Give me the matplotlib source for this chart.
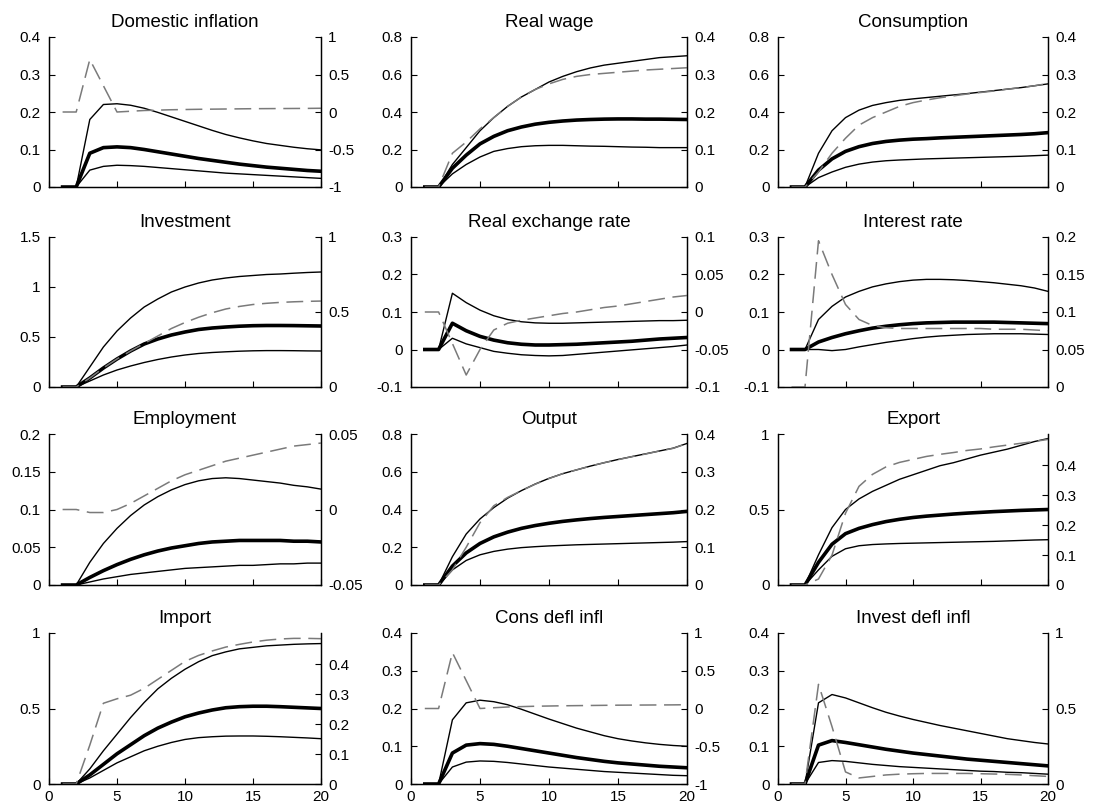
import matplotlib
matplotlib.use("Agg")
import matplotlib.pyplot as plt
import numpy as np

plt.rcParams['font.family'] = ['Liberation Sans', 'DejaVu Sans']

periods = list(range(1, 21))
xticks = [0, 5, 10, 15, 20]

titles = ["Domestic inflation", "Real wage", "Consumption",
          "Investment", "Real exchange rate", "Interest rate",
          "Employment", "Output", "Export",
          "Import", "Cons defl infl", "Invest defl infl"]

# ---- Domestic inflation ----
dinf_med = [0, 0, 0.09, 0.105, 0.107, 0.105, 0.1, 0.094, 0.088, 0.082, 0.076, 0.071, 0.066, 0.061, 0.057, 0.053, 0.05, 0.047, 0.044, 0.042]
dinf_hi = [0, 0, 0.18, 0.22, 0.222, 0.218, 0.21, 0.199, 0.187, 0.175, 0.163, 0.151, 0.14, 0.131, 0.123, 0.116, 0.111, 0.106, 0.102, 0.099]
dinf_lo = [0, 0, 0.045, 0.055, 0.058, 0.057, 0.055, 0.052, 0.049, 0.046, 0.043, 0.04, 0.037, 0.035, 0.033, 0.031, 0.029, 0.027, 0.025, 0.023]
dinf_dash = [0, 0, 0.7, 0.35, 0.0, 0.01, 0.02, 0.025, 0.03, 0.033, 0.036, 0.038, 0.04, 0.042, 0.044, 0.045, 0.046, 0.047, 0.048, 0.05]

# ---- Real wage ----
rw_med = [0, 0, 0.1, 0.17, 0.23, 0.27, 0.3, 0.32, 0.335, 0.345, 0.352, 0.357, 0.36, 0.362, 0.363, 0.363, 0.362, 0.362, 0.361, 0.36]
rw_hi = [0, 0, 0.12, 0.21, 0.3, 0.37, 0.43, 0.48, 0.52, 0.56, 0.59, 0.615, 0.635, 0.65, 0.66, 0.67, 0.68, 0.69, 0.695, 0.7]
rw_lo = [0, 0, 0.07, 0.12, 0.16, 0.19, 0.205, 0.215, 0.22, 0.222, 0.222, 0.22, 0.218, 0.217, 0.215, 0.213, 0.212, 0.21, 0.21, 0.21]
rw_dash = [0, 0, 0.09, 0.12, 0.155, 0.185, 0.215, 0.24, 0.26, 0.275, 0.287, 0.295, 0.3, 0.303, 0.306, 0.309, 0.312, 0.314, 0.316, 0.318]

# ---- Consumption ----
c_med = [0, 0, 0.09, 0.15, 0.19, 0.215, 0.232, 0.243, 0.25, 0.255, 0.258, 0.262, 0.265, 0.268, 0.271, 0.274, 0.277, 0.28, 0.284, 0.29]
c_hi = [0, 0, 0.18, 0.3, 0.37, 0.41, 0.435, 0.45, 0.462, 0.47, 0.477, 0.484, 0.491, 0.498, 0.506, 0.514, 0.522, 0.53, 0.54, 0.55]
c_lo = [0, 0, 0.05, 0.08, 0.105, 0.122, 0.133, 0.14, 0.144, 0.147, 0.15, 0.152, 0.154, 0.156, 0.158, 0.16, 0.162, 0.164, 0.167, 0.17]
c_dash = [0, 0, 0.04, 0.09, 0.13, 0.165, 0.185, 0.2, 0.215, 0.225, 0.232, 0.238, 0.243, 0.248, 0.252, 0.256, 0.261, 0.265, 0.27, 0.276]

# ---- Investment ----
i_med = [0, 0, 0.09, 0.19, 0.28, 0.36, 0.43, 0.48, 0.52, 0.55, 0.575, 0.59, 0.6, 0.608, 0.613, 0.615, 0.615, 0.614, 0.612, 0.61]
i_hi = [0, 0, 0.2, 0.4, 0.56, 0.69, 0.8, 0.88, 0.95, 1.0, 1.04, 1.07, 1.09, 1.105, 1.115, 1.125, 1.13, 1.138, 1.145, 1.15]
i_lo = [0, 0, 0.06, 0.12, 0.17, 0.21, 0.245, 0.275, 0.3, 0.32, 0.335, 0.345, 0.352, 0.358, 0.362, 0.364, 0.364, 0.363, 0.361, 0.36]
i_dash = [0, 0, 0.06, 0.127, 0.187, 0.24, 0.29, 0.34, 0.39, 0.43, 0.465, 0.495, 0.52, 0.537, 0.55, 0.558, 0.564, 0.568, 0.571, 0.573]

# ---- Real exchange rate ----
rer_med = [0, 0, 0.07, 0.05, 0.035, 0.025, 0.018, 0.014, 0.012, 0.012, 0.013, 0.014, 0.016, 0.018, 0.02, 0.022, 0.025, 0.028, 0.03, 0.032]
rer_hi = [0, 0, 0.15, 0.125, 0.105, 0.09, 0.08, 0.074, 0.071, 0.07, 0.07, 0.071, 0.072, 0.073, 0.074, 0.075, 0.076, 0.077, 0.077, 0.078]
rer_lo = [0, 0, 0.03, 0.015, 0.005, -0.005, -0.01, -0.014, -0.016, -0.017, -0.016, -0.013, -0.01, -0.007, -0.004, -0.001, 0.002, 0.005, 0.008, 0.012]
rer_dash = [0, 0, -0.042, -0.084, -0.05, -0.024, -0.015, -0.011, -0.008, -0.005, -0.002, 0.0, 0.003, 0.006, 0.008, 0.011, 0.014, 0.017, 0.02, 0.022]

# ---- Interest rate ----
ir_med = [0, 0, 0.02, 0.032, 0.042, 0.05, 0.057, 0.062, 0.066, 0.069, 0.071, 0.072, 0.073, 0.073, 0.073, 0.073, 0.072, 0.071, 0.07, 0.069]
ir_hi = [0, 0, 0.08, 0.115, 0.14, 0.155, 0.167, 0.175, 0.181, 0.185, 0.187, 0.187, 0.186, 0.184, 0.181, 0.178, 0.174, 0.17, 0.164, 0.155]
ir_lo = [0, 0, 0.0, -0.003, 0.0, 0.007, 0.013, 0.019, 0.024, 0.029, 0.033, 0.036, 0.038, 0.04, 0.041, 0.042, 0.042, 0.042, 0.041, 0.04]
ir_dash = [0, 0, 0.195, 0.15, 0.11, 0.09, 0.082, 0.079, 0.078, 0.078, 0.078, 0.078, 0.078, 0.078, 0.078, 0.077, 0.077, 0.077, 0.076, 0.075]

# ---- Employment ----
e_med = [0, 0, 0.01, 0.019, 0.027, 0.034, 0.04, 0.045, 0.049, 0.052, 0.055, 0.057, 0.058, 0.059, 0.059, 0.059, 0.059, 0.058, 0.058, 0.057]
e_hi = [0, 0, 0.03, 0.055, 0.075, 0.092, 0.106, 0.117, 0.126, 0.133, 0.138, 0.141, 0.142, 0.141, 0.139, 0.137, 0.135, 0.132, 0.13, 0.127]
e_lo = [0, 0, 0.004, 0.008, 0.011, 0.014, 0.016, 0.018, 0.02, 0.022, 0.023, 0.024, 0.025, 0.026, 0.026, 0.027, 0.028, 0.028, 0.029, 0.029]
e_dash = [0, 0, -0.002, -0.002, 0.0, 0.004, 0.009, 0.014, 0.019, 0.023, 0.026, 0.029, 0.032, 0.034, 0.036, 0.038, 0.04, 0.042, 0.043, 0.044]

# ---- Output ----
y_med = [0, 0, 0.1, 0.17, 0.22, 0.255, 0.28, 0.3, 0.315, 0.327, 0.337, 0.345, 0.352, 0.358, 0.363, 0.368, 0.373, 0.378, 0.383, 0.39]
y_hi = [0, 0, 0.15, 0.27, 0.35, 0.41, 0.46, 0.5, 0.535, 0.565, 0.59, 0.61, 0.63, 0.648, 0.665, 0.68, 0.695, 0.71, 0.725, 0.75]
y_lo = [0, 0, 0.08, 0.13, 0.16, 0.178, 0.19, 0.198, 0.203, 0.207, 0.21, 0.213, 0.215, 0.217, 0.219, 0.221, 0.223, 0.225, 0.227, 0.23]
y_dash = [0, 0, 0.04, 0.1, 0.165, 0.21, 0.232, 0.25, 0.267, 0.282, 0.295, 0.305, 0.315, 0.324, 0.332, 0.34, 0.347, 0.355, 0.362, 0.375]

# ---- Export ----
x_med = [0, 0, 0.15, 0.27, 0.34, 0.375, 0.4, 0.42, 0.435, 0.447, 0.456, 0.463, 0.47, 0.476, 0.481, 0.486, 0.49, 0.494, 0.497, 0.5]
x_hi = [0, 0, 0.2, 0.38, 0.5, 0.57, 0.62, 0.66, 0.7, 0.73, 0.76, 0.79, 0.81, 0.835, 0.86, 0.88, 0.9, 0.925, 0.95, 0.97]
x_lo = [0, 0, 0.1, 0.19, 0.24, 0.26, 0.268, 0.272, 0.275, 0.277, 0.279, 0.281, 0.283, 0.285, 0.287, 0.289, 0.292, 0.295, 0.298, 0.3]
x_dash = [0, 0, 0.02, 0.1, 0.24, 0.33, 0.37, 0.395, 0.41, 0.42, 0.43, 0.437, 0.443, 0.45, 0.455, 0.462, 0.468, 0.474, 0.48, 0.487]

# ---- Import ----
m_med = [0, 0, 0.06, 0.13, 0.2, 0.26, 0.32, 0.37, 0.41, 0.445, 0.47, 0.49, 0.505, 0.512, 0.515, 0.515, 0.512, 0.508, 0.504, 0.5]
m_hi = [0, 0, 0.1, 0.22, 0.33, 0.44, 0.54, 0.63, 0.7, 0.76, 0.81, 0.85, 0.875, 0.895, 0.905, 0.915, 0.92, 0.925, 0.928, 0.93]
m_lo = [0, 0, 0.04, 0.09, 0.14, 0.18, 0.22, 0.25, 0.275, 0.295, 0.307, 0.313, 0.317, 0.318, 0.318, 0.316, 0.313, 0.309, 0.305, 0.3]
m_dash = [0, 0, 0.13, 0.27, 0.285, 0.297, 0.32, 0.35, 0.38, 0.41, 0.43, 0.445, 0.458, 0.467, 0.475, 0.481, 0.485, 0.487, 0.487, 0.486]

# ---- Cons defl infl ----
cd_med = [0, 0, 0.082, 0.103, 0.107, 0.105, 0.1, 0.094, 0.088, 0.082, 0.076, 0.07, 0.065, 0.06, 0.056, 0.053, 0.05, 0.047, 0.045, 0.043]
cd_hi = [0, 0, 0.17, 0.215, 0.222, 0.218, 0.21, 0.198, 0.185, 0.172, 0.16, 0.148, 0.138, 0.128, 0.12, 0.114, 0.109, 0.105, 0.102, 0.1]
cd_lo = [0, 0, 0.045, 0.058, 0.061, 0.06, 0.057, 0.053, 0.049, 0.045, 0.042, 0.039, 0.036, 0.033, 0.031, 0.029, 0.027, 0.025, 0.023, 0.022]
cd_dash = [0, 0, 0.74, 0.37, 0.0, 0.01, 0.02, 0.025, 0.03, 0.033, 0.036, 0.038, 0.04, 0.042, 0.044, 0.045, 0.046, 0.047, 0.048, 0.05]

# ---- Invest defl infl ----
id_med = [0, 0, 0.103, 0.115, 0.11, 0.104, 0.098, 0.092, 0.087, 0.082, 0.078, 0.074, 0.07, 0.066, 0.063, 0.06, 0.057, 0.054, 0.051, 0.048]
id_hi = [0, 0, 0.215, 0.237, 0.228, 0.215, 0.202, 0.19, 0.18, 0.171, 0.163, 0.155, 0.148, 0.141, 0.134, 0.127, 0.12, 0.115, 0.11, 0.106]
id_lo = [0, 0, 0.057, 0.062, 0.06, 0.056, 0.052, 0.049, 0.046, 0.044, 0.042, 0.04, 0.038, 0.036, 0.034, 0.033, 0.031, 0.03, 0.028, 0.026]
id_dash = [0, 0, 0.66, 0.38, 0.08, 0.04, 0.05, 0.06, 0.065, 0.068, 0.07, 0.07, 0.07, 0.07, 0.068, 0.066, 0.064, 0.06, 0.055, 0.05]

# ---- axis tick values ----
left_ticks = [
    [0, 0.1, 0.2, 0.3, 0.4], [0, 0.2, 0.4, 0.6, 0.8], [0, 0.2, 0.4, 0.6, 0.8],
    [0, 0.5, 1, 1.5], [-0.1, 0, 0.1, 0.2, 0.3], [-0.1, 0, 0.1, 0.2, 0.3],
    [0, 0.05, 0.1, 0.15, 0.2], [0, 0.2, 0.4, 0.6, 0.8], [0, 0.5, 1],
    [0, 0.5, 1], [0, 0.1, 0.2, 0.3, 0.4], [0, 0.1, 0.2, 0.3, 0.4]]
right_ticks = [
    [-1, -0.5, 0, 0.5, 1], [0, 0.1, 0.2, 0.3, 0.4], [0, 0.1, 0.2, 0.3, 0.4],
    [0, 0.5, 1], [-0.1, -0.05, 0, 0.05, 0.1], [0, 0.05, 0.1, 0.15, 0.2],
    [-0.05, 0, 0.05], [0, 0.1, 0.2, 0.3, 0.4], [0, 0.1, 0.2, 0.3, 0.4],
    [0, 0.1, 0.2, 0.3, 0.4], [-1, -0.5, 0, 0.5, 1], [0, 0.5, 1]]
left_lims = [(0, 0.4), (0, 0.8), (0, 0.8), (0, 1.5), (-0.1, 0.3), (-0.1, 0.3),
             (0, 0.2), (0, 0.8), (0, 1), (0, 1), (0, 0.4), (0, 0.4)]
right_lims = [(-1, 1), (0, 0.4), (0, 0.4), (0, 1), (-0.1, 0.1), (0, 0.2),
              (-0.05, 0.05), (0, 0.4), (0, 0.505), (0, 0.505), (-1, 1), (0, 1)]

series = [
    (dinf_med, dinf_hi, dinf_lo, dinf_dash),
    (rw_med, rw_hi, rw_lo, rw_dash),
    (c_med, c_hi, c_lo, c_dash),
    (i_med, i_hi, i_lo, i_dash),
    (rer_med, rer_hi, rer_lo, rer_dash),
    (ir_med, ir_hi, ir_lo, ir_dash),
    (e_med, e_hi, e_lo, e_dash),
    (y_med, y_hi, y_lo, y_dash),
    (x_med, x_hi, x_lo, x_dash),
    (m_med, m_hi, m_lo, m_dash),
    (cd_med, cd_hi, cd_lo, cd_dash),
    (id_med, id_hi, id_lo, id_dash),
]

W, H = 1093, 808
col_l = [49, 411, 778]
col_r = [321, 687, 1048]
row_t = [37, 237, 434, 633]
row_b = [187, 387, 585, 784]


def fmt(v):
    return f"{v:g}"


fig = plt.figure(figsize=(W / 100, H / 100), dpi=100)
for k in range(12):
    r, c = divmod(k, 3)
    l = col_l[c] / W
    b = 1 - row_b[r] / H
    w = (col_r[c] - col_l[c]) / W
    h = (row_b[r] - row_t[r]) / H
    ax = fig.add_axes([l, b, w, h])
    ax2 = ax.twinx()
    med, hi, lo, dash = series[k]
    ax.plot(periods, hi, color='black', lw=1.0)
    ax.plot(periods, lo, color='black', lw=1.0)
    ax.plot(periods, med, color='black', lw=2.6)
    ax2.plot(periods, dash, color='#7a7a7a', lw=1.1, linestyle=(0, (11, 5)))
    ax.set_xlim(0, 20)
    ax.set_ylim(*left_lims[k])
    ax2.set_ylim(*right_lims[k])
    ax.set_xticks(xticks)
    ax.set_yticks(left_ticks[k])
    ax.set_yticklabels([fmt(v) for v in left_ticks[k]])
    ax2.set_yticks(right_ticks[k])
    ax2.set_yticklabels([fmt(v) for v in right_ticks[k]])
    if r == 3:
        ax.set_xticklabels([str(v) for v in xticks])
    else:
        ax.set_xticklabels([])
    for a in (ax, ax2):
        a.spines['top'].set_visible(False)
        for s in a.spines.values():
            s.set_linewidth(0.9)
    ax.tick_params(axis='both', direction='in', length=4, width=0.8,
                   labelsize=11, pad=6)
    ax.tick_params(axis='x', pad=4)
    ax2.tick_params(axis='y', direction='in', length=4, width=0.8,
                    labelsize=11, pad=5)
    ax.set_title(titles[k], fontsize=13.5, pad=7)

fig.savefig("out.png", dpi=100)
